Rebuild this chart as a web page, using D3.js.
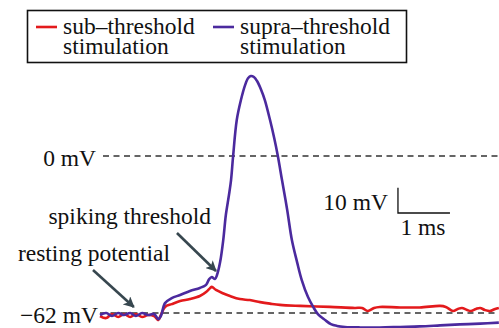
<!DOCTYPE html>
<html><head><meta charset="utf-8">
<script src="https://cdn.jsdelivr.net/npm/d3@7"></script>
<style>
html,body{margin:0;padding:0;background:#fff;}
svg{display:block;}
svg text{font-family:"Liberation Serif","Times New Roman",Times,serif;}
</style></head>
<body>
<svg id="c" width="499" height="328"></svg>
<script>
// time (ms) and membrane potential (mV)
const supraT = [0,0.12,0.23,0.35,0.46,0.58,0.69,0.81,0.92,1.04,1.12,1.17,1.25,1.38,1.54,1.73,1.92,2.04,2.10,2.15,2.21,2.25,2.31,2.37,2.42,2.48,2.52,2.56,2.63,2.71,2.79,2.85,2.90,2.96,3.02,3.10,3.17,3.27,3.35,3.42,3.50,3.60,3.69,3.79,3.88,4.00,4.10,4.19,4.33,4.44,4.56,4.71,5.00,5.38,5.77,6.15,6.54,6.92,7.31,7.67];
const supraV = [-62.8,-62.0,-63.2,-62.0,-62.8,-62.0,-63.2,-62.0,-62.8,-62.4,-64.4,-63.2,-58.1,-56.1,-54.9,-53.3,-52.1,-50.9,-48.6,-47.8,-48.6,-47.0,-41.9,-33.2,-23.3,-15.4,-9.5,0,14.2,22.1,28.0,30.8,31.6,31.2,29.6,26.1,22.1,14.2,7.1,0,-9.5,-21.3,-33.2,-41.9,-49.0,-55.7,-59.6,-62.4,-64.8,-66.4,-67.1,-67.5,-67.7,-67.7,-67.5,-67.3,-66.9,-66.5,-66.2,-65.8];
const subT = [0,0.12,0.23,0.35,0.46,0.58,0.69,0.81,0.92,1.04,1.12,1.17,1.25,1.38,1.54,1.73,1.92,2.04,2.12,2.15,2.23,2.35,2.50,2.69,2.88,3.08,3.27,3.46,3.85,4.42,4.90,5.04,5.15,5.27,5.38,5.77,6.15,6.54,6.65,6.79,6.88,6.96,7.06,7.13,7.23,7.31,7.40,7.50,7.60,7.67];
const subV = [-63.2,-64.0,-62.4,-63.6,-62.4,-63.6,-62.4,-63.6,-62.8,-63.2,-64.8,-62.8,-59.6,-58.5,-57.3,-56.5,-55.3,-53.7,-52.1,-51.7,-52.9,-54.1,-55.3,-56.5,-56.9,-57.7,-58.3,-58.8,-59.2,-59.6,-60.0,-60.0,-61.2,-60.0,-59.6,-59.8,-59.8,-59.2,-59.6,-61.2,-60.4,-60.0,-60.8,-61.2,-60.4,-60.0,-60.8,-61.2,-60.4,-60.0];
const refLevels = [0, -62];
const refLabels = ["0 mV", "\u221262 mV"];
const legendLabels = [["sub\u2013threshold","stimulation"],["supra\u2013threshold","stimulation"]];
const seriesColors = ["#e31a1c", "#4b2a9e"];
const annotations = [
  {text:"spiking threshold", t0:1.48, v0:-30.4, t1:2.23, v1:-45.4},
  {text:"resting potential", t0:-0.135, v0:-45.0, t1:0.65, v1:-59.6}
];
const scaleBar = {t:5.73, v:-22.5, dt:1, dv:10};

const svg = d3.select("#c");
const x = d3.scaleLinear().domain([0, 7.673]).range([100, 499]);
const y = d3.scaleLinear().domain([-62, 0]).range([313, 156]);
const FS = 23.5;

// reference dashed lines
refLevels.forEach((lv,i)=>{
  svg.append("line").attr("x1", i===0?103:100).attr("x2",499)
    .attr("y1",y(lv)).attr("y2",y(lv))
    .attr("stroke","#333").attr("stroke-width",1.3).attr("stroke-dasharray","6,4.5");
  svg.append("text").attr("x", i===0?96:98).attr("y", y(lv)+9.5)
    .attr("text-anchor","end").attr("font-size",FS).attr("fill","#111").text(refLabels[i]);
});

// traces
const line = d3.line().curve(d3.curveCatmullRom.alpha(0.5)).x(d=>x(d[0])).y(d=>y(d[1]));
svg.append("path").datum(subT.map((t,i)=>[t,subV[i]])).attr("d",line)
  .attr("fill","none").attr("stroke",seriesColors[0]).attr("stroke-width",2.6).attr("stroke-linejoin","round");
svg.append("path").datum(supraT.map((t,i)=>[t,supraV[i]])).attr("d",line)
  .attr("fill","none").attr("stroke",seriesColors[1]).attr("stroke-width",2.6).attr("stroke-linejoin","round");

// arrows
svg.append("defs").append("marker").attr("id","ah").attr("viewBox","0 0 10 10")
  .attr("refX",9).attr("refY",5).attr("markerWidth",4.2).attr("markerHeight",4.2)
  .attr("markerUnits","strokeWidth").attr("orient","auto")
  .append("path").attr("d","M0,0 L10,5 L0,10 L2.5,5 Z").attr("fill","#37474f");
annotations.forEach(a=>{
  svg.append("line").attr("x1",x(a.t0)).attr("y1",y(a.v0)).attr("x2",x(a.t1)).attr("y2",y(a.v1))
    .attr("stroke","#37474f").attr("stroke-width",2.6).attr("marker-end","url(#ah)");
});
svg.append("text").attr("x",211).attr("y",224).attr("text-anchor","end").attr("font-size",FS).attr("fill","#111").text(annotations[0].text);
svg.append("text").attr("x",170).attr("y",261).attr("text-anchor","end").attr("font-size",FS).attr("fill","#111").text(annotations[1].text);

// scale bar
const sb = svg.append("g");
sb.append("path").attr("d",`M${x(scaleBar.t)},${y(scaleBar.v+scaleBar.dv)} L${x(scaleBar.t)},${y(scaleBar.v)} L${x(scaleBar.t+scaleBar.dt)},${y(scaleBar.v)}`)
  .attr("fill","none").attr("stroke","#111").attr("stroke-width",1.3);
sb.append("text").attr("x",x(scaleBar.t)-10).attr("y",210).attr("text-anchor","end").attr("font-size",FS).attr("fill","#111").text(scaleBar.dv+" mV");
sb.append("text").attr("x",(x(scaleBar.t)+x(scaleBar.t+scaleBar.dt))/2-1).attr("y",235).attr("text-anchor","middle").attr("font-size",FS).attr("fill","#111").text(scaleBar.dt+" ms");

// legend
const lg = svg.append("g");
lg.append("rect").attr("x",27.5).attr("y",10.5).attr("width",379).attr("height",52)
  .attr("fill","#fff").attr("stroke","#111").attr("stroke-width",1.6);
const legX = [36, 213];
legendLabels.forEach((lab,i)=>{
  lg.append("line").attr("x1",legX[i]).attr("x2",legX[i]+21).attr("y1",27).attr("y2",27)
    .attr("stroke",seriesColors[i]).attr("stroke-width",2.6);
  lab.forEach((s,j)=>{
    lg.append("text").attr("x",legX[i]+27).attr("y",34+20*j).attr("font-size",FS).attr("fill","#111").text(s);
  });
});
</script>
</body></html>
